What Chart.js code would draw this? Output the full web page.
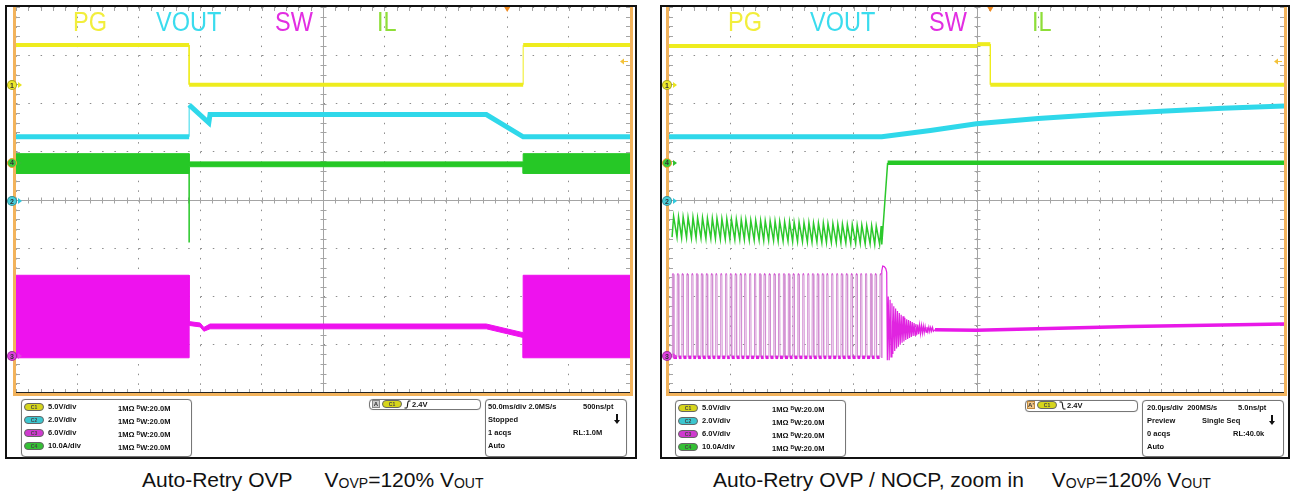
<!DOCTYPE html>
<html lang="en">
<head>
<meta charset="UTF-8">
<title>Auto-Retry OVP</title>
<style>
  body { margin: 0; background: #fff; font-family: "Liberation Sans", Arial, sans-serif; }
  #page { position: relative; width: 1298px; height: 496px; overflow: hidden; }
  .panel { position: absolute; top: 5px; height: 454px; border: 2px solid #111; box-sizing: border-box; }
  canvas { position: absolute; top: 0; }
  .lbl { position: absolute; top: 9px; font-size: 27px; line-height: 27px; transform: scaleX(0.87); transform-origin: left top; }
  .mk { position: absolute; width: 10px; height: 10px; border-radius: 50%; font-size: 7px; font-weight: bold;
        line-height: 9px; text-align: center; color: #333; box-sizing: border-box; border: 1px solid rgba(0,0,0,.3); }
  .mk::after { content: ''; position: absolute; left: 10px; top: 1px; border-left: 4px solid var(--c);
               border-top: 3px solid transparent; border-bottom: 3px solid transparent; }
  .mk.sel { border: 1.5px solid #f0a030; line-height: 8px; }
  .box { position: absolute; border: 1px solid #777; border-radius: 4px; box-sizing: border-box; background: #fff; box-shadow: 0 0 1px #bbb; }
  .row { position: absolute; font-size: 7.5px; line-height: 8px; font-weight: bold; color: #111; white-space: nowrap; }
  .bw { font-size: 5px; vertical-align: 2px; }
  .badge { position: absolute; width: 20px; height: 8px; border-radius: 4px; font-size: 5px; line-height: 7px;
           text-align: center; color: #444; border: 1px solid #666; box-sizing: border-box; font-weight: bold; }
  .c1 { background: #d6d51c; } .c2 { background: #3cc6cf; } .c3 { background: #cf3acf; } .c4 { background: #34c034; }
  .tA { position: absolute; width: 8px; height: 8px; background: #ccc; border: 1px solid #888; box-sizing: border-box;
        font-size: 6px; line-height: 6px; text-align: center; font-weight: bold; color: #333; }
  .arr { position: absolute; width: 2px; height: 6px; background: #111; }
  .arr::after { content: ''; position: absolute; left: -2px; top: 6px; border-top: 4px solid #111;
                border-left: 3px solid transparent; border-right: 3px solid transparent; }
  .cap { position: absolute; top: 468px; font-size: 21px; line-height: 24px; color: #111; white-space: nowrap; }
  .cap .s { font-size: 14px; vertical-align: -1px; }
</style>
</head>
<body>
<div id="page">
  <div class="panel" style="left:5px; width:632px;"></div>
  <div class="panel" style="left:660px; width:630px;"></div>

  <canvas id="leftScope" width="640" height="400" style="left:0;"></canvas>
  <canvas id="rightScope" width="648" height="400" style="left:650px;"></canvas>

  <!-- trace labels -->
  <div class="lbl" style="left:73px; color:#f2ee3c;">PG</div>
  <div class="lbl" style="left:156px; color:#3bdcee;">VOUT</div>
  <div class="lbl" style="left:275px; color:#e22ee2;">SW</div>
  <div class="lbl" style="left:377px; color:#8ede38;">IL</div>
  <div class="lbl" style="left:728px; color:#f2ee3c;">PG</div>
  <div class="lbl" style="left:810px; color:#3bdcee;">VOUT</div>
  <div class="lbl" style="left:929px; color:#e22ee2;">SW</div>
  <div class="lbl" style="left:1032px; color:#8ede38;">IL</div>

  <!-- channel ground markers -->
  <div class="mk" style="left:7px; top:80px; background:#eeea2a; --c:#e8e420;">1</div>
  <div class="mk sel" style="left:7px; top:158px; background:#3ccc3c; --c:#30c030;">4</div>
  <div class="mk" style="left:7px; top:196px; background:#48d0dc; --c:#30c8dc;">2</div>
  <div class="mk" style="left:7px; top:351px; background:#e040e0; --c:#e040e0;">3</div>
  <div class="mk" style="left:662px; top:80px; background:#eeea2a; --c:#e8e420;">1</div>
  <div class="mk sel" style="left:662px; top:158px; background:#3ccc3c; --c:#30c030;">4</div>
  <div class="mk" style="left:662px; top:196px; background:#48d0dc; --c:#30c8dc;">2</div>
  <div class="mk" style="left:662px; top:351px; background:#e040e0; --c:#e040e0;">3</div>

  <!-- left readout -->
  <div class="box" style="left:21px; top:399px; width:171px; height:58px;"></div>
  <div class="badge c1" style="left:24px; top:403px;">C1</div>
  <div class="badge c2" style="left:24px; top:416px;">C2</div>
  <div class="badge c3" style="left:24px; top:429px;">C3</div>
  <div class="badge c4" style="left:24px; top:442px;">C4</div>
  <div class="row" style="left:48px; top:403px;">5.0V/div</div>
  <div class="row" style="left:48px; top:416px;">2.0V/div</div>
  <div class="row" style="left:48px; top:429px;">6.0V/div</div>
  <div class="row" style="left:48px; top:442px;">10.0A/div</div>
  <div class="row" style="left:118px; top:403px;">1MΩ <span class="bw">B</span>W:20.0M</div>
  <div class="row" style="left:118px; top:416px;">1MΩ <span class="bw">B</span>W:20.0M</div>
  <div class="row" style="left:118px; top:429px;">1MΩ <span class="bw">B</span>W:20.0M</div>
  <div class="row" style="left:118px; top:442px;">1MΩ <span class="bw">B</span>W:20.0M</div>

  <div class="box" style="left:369px; top:399px; width:112px; height:11px;"></div>
  <div class="tA" style="left:372px; top:400px;">A</div>
  <div class="badge c1" style="left:382px; top:400px;">C1</div>
  <svg style="position:absolute; left:404px; top:400px;" width="7" height="9"><path d="M0.5 8 L2.5 8 Q3.3 8 3.6 4.5 Q3.9 1 4.8 1 L6.5 1" stroke="#111" stroke-width="1.1" fill="none"/></svg>
  <div class="row" style="left:412px; top:401px;">2.4V</div>

  <div class="box" style="left:485px; top:399px; width:142px; height:58px;"></div>
  <div class="row" style="left:488px; top:403px;">50.0ms/div 2.0MS/s</div>
  <div class="row" style="left:583px; top:403px;">500ns/pt</div>
  <div class="row" style="left:488px; top:416px;">Stopped</div>
  <div class="arr" style="left:616px; top:414px;"></div>
  <div class="row" style="left:488px; top:429px;">1 acqs</div>
  <div class="row" style="left:573px; top:429px;">RL:1.0M</div>
  <div class="row" style="left:488px; top:442px;">Auto</div>

  <!-- right readout -->
  <div class="box" style="left:675px; top:400px; width:171px; height:57px;"></div>
  <div class="badge c1" style="left:678px; top:404px;">C1</div>
  <div class="badge c2" style="left:678px; top:417px;">C2</div>
  <div class="badge c3" style="left:678px; top:430px;">C3</div>
  <div class="badge c4" style="left:678px; top:443px;">C4</div>
  <div class="row" style="left:702px; top:404px;">5.0V/div</div>
  <div class="row" style="left:702px; top:417px;">2.0V/div</div>
  <div class="row" style="left:702px; top:430px;">6.0V/div</div>
  <div class="row" style="left:702px; top:443px;">10.0A/div</div>
  <div class="row" style="left:772px; top:404px;">1MΩ <span class="bw">B</span>W:20.0M</div>
  <div class="row" style="left:772px; top:417px;">1MΩ <span class="bw">B</span>W:20.0M</div>
  <div class="row" style="left:772px; top:430px;">1MΩ <span class="bw">B</span>W:20.0M</div>
  <div class="row" style="left:772px; top:443px;">1MΩ <span class="bw">B</span>W:20.0M</div>

  <div class="box" style="left:1025px; top:400px; width:113px; height:12px;"></div>
  <div class="tA" style="left:1027px; top:401px; background:#f3c98a; border-color:#c08a40;">A'</div>
  <div class="badge c1" style="left:1037px; top:401px;">C1</div>
  <svg style="position:absolute; left:1059px; top:401px;" width="7" height="9"><path d="M0.5 1 L2.5 1 Q3.3 1 3.6 4.5 Q3.9 8 4.8 8 L6.5 8" stroke="#111" stroke-width="1.1" fill="none"/></svg>
  <div class="row" style="left:1067px; top:402px;">2.4V</div>

  <div class="box" style="left:1142px; top:400px; width:142px; height:57px;"></div>
  <div class="row" style="left:1147px; top:404px;">20.0µs/div&nbsp;&nbsp;200MS/s</div>
  <div class="row" style="left:1238px; top:404px;">5.0ns/pt</div>
  <div class="row" style="left:1147px; top:417px;">Preview</div>
  <div class="row" style="left:1202px; top:417px;">Single Seq</div>
  <div class="arr" style="left:1271px; top:415px;"></div>
  <div class="row" style="left:1147px; top:430px;">0 acqs</div>
  <div class="row" style="left:1233px; top:430px;">RL:40.0k</div>
  <div class="row" style="left:1147px; top:443px;">Auto</div>

  <!-- captions -->
  <div class="cap" style="left:142px;">Auto-Retry OVP<span style="display:inline-block; width:32px;"></span>V<span class="s">OVP</span>=120% V<span class="s">OUT</span></div>
  <div class="cap" style="left:713px;">Auto-Retry OVP / NOCP, zoom in<span style="display:inline-block; width:28px;"></span>V<span class="s">OVP</span>=120% V<span class="s">OUT</span></div>
</div>

<script src="https://cdn.jsdelivr.net/npm/chart.js"></script>
<script>
// ---- left capture: 50 ms/div, time in ms, amplitude in divisions ----
const pgLeftT   = [-250, -109, -109, 163, 163, 250];
const pgLeftV   = [3.21, 3.21, 2.39, 2.39, 3.21, 3.21];

const voutLeftT = [-250, -109, -109, -93, -92, 133, 163, 250];
const voutLeftV = [1.31, 1.31, 1.97, 1.60, 1.77, 1.77, 1.31, 1.31];

const ilLeftT   = [-250, -109, -109, 163, 163, 250];
const ilLeftTop = [0.96, 0.96, 0.79, 0.79, 0.96, 0.96];
const ilLeftBot = [0.55, 0.55, 0.69, 0.69, 0.55, 0.55];
const ilSpikeT  = [-109, -109];
const ilSpikeV  = [0.69, -0.88];

const swLeftT   = [-250, -109, -109, -100, -97, -92, 133, 163, 163, 250];
const swLeftTop = [-1.56, -1.56, -2.52, -2.55, -2.64, -2.57, -2.57, -2.75, -1.56, -1.56];
const swLeftBot = [-3.27, -3.27, -2.60, -2.63, -2.72, -2.67, -2.67, -2.85, -3.27, -3.27];

// ---- right capture: 20 us/div, time in us ----
const pgRightT   = [-100, 0.3, 0.3, 4.5, 4.5, 100];
const pgRightV   = [3.19, 3.19, 3.23, 3.23, 2.39, 2.39];

const voutRightT = [-100, -30.8, -15, 0, 20, 40, 60, 80, 100];
const voutRightV = [1.31, 1.31, 1.44, 1.58, 1.69, 1.77, 1.84, 1.90, 1.95];

// switching pulses before the fault (start times, us)
const swPulseT = [-99.0, -97.4, -95.9, -94.3, -92.7, -91.2, -89.6, -88.0, -86.4, -84.9,
                  -83.3, -81.7, -80.2, -78.6, -77.0, -75.5, -73.9, -72.3, -70.7, -69.2,
                  -67.6, -66.0, -64.5, -62.9, -61.3, -59.8, -58.2, -56.6, -55.0, -53.5,
                  -51.9, -50.3, -48.8, -47.2, -45.6, -44.1, -42.5, -40.9, -39.3, -37.8,
                  -36.2, -34.6, -33.1, -31.5];
const swOnTime = 0.5;
const swLowR = -3.26;
const swHighR = -1.54;

const ilPeak   = [-0.34, -0.35, -0.35, -0.36, -0.36, -0.37, -0.37, -0.38, -0.38, -0.38,
                  -0.39, -0.39, -0.40, -0.40, -0.41, -0.41, -0.42, -0.42, -0.43, -0.43,
                  -0.43, -0.44, -0.44, -0.45, -0.45, -0.46, -0.46, -0.47, -0.47, -0.48,
                  -0.48, -0.48, -0.49, -0.49, -0.50, -0.50, -0.51, -0.51, -0.52, -0.52,
                  -0.53, -0.53, -0.54, -0.54];
const ilValley = [-0.77, -0.77, -0.78, -0.78, -0.79, -0.79, -0.79, -0.80, -0.80, -0.80,
                  -0.81, -0.81, -0.81, -0.82, -0.82, -0.82, -0.83, -0.83, -0.83, -0.84,
                  -0.84, -0.84, -0.85, -0.85, -0.85, -0.86, -0.86, -0.86, -0.87, -0.87,
                  -0.87, -0.88, -0.88, -0.88, -0.89, -0.89, -0.89, -0.90, -0.90, -0.90,
                  -0.91, -0.91, -0.92, -0.92];
const ilRiseT = [-30.8, -28.9];
const ilRiseV = [-0.92, 0.77];
const ilFlatT = [-28.9, 100];
const ilFlatV = [0.77, 0.77];

// last pulse and the ringing after the high side turns off
const swTailT = [-30.9, -30.8, -30.5, -30.0, -29.5, -29.2, -29.0,
                 -28.7, -28.4, -28.1, -27.8, -27.5, -27.2, -26.9, -26.6, -26.3, -26.0,
                 -25.7, -25.4, -25.1, -24.8, -24.5, -24.2, -23.9, -23.6, -23.3, -23.0,
                 -22.7, -22.4, -22.1, -21.8, -21.5, -21.2, -20.9, -20.6, -20.3, -20.0,
                 -19.7, -19.4, -19.1, -18.8, -18.5, -18.2, -17.9, -17.6, -17.3, -17.0,
                 -16.7, -16.4, -16.1, -15.8, -15.5, -15.2, -14.9, -14.6, -14.3, -14.0,
                 -13.5];
const swTailV = [-3.26, -1.47, -1.37, -1.38, -1.42, -1.50, -3.32,
                 -2.00, -3.32, -2.07, -3.25, -2.14, -3.19, -2.20, -3.13, -2.25, -3.08,
                 -2.30, -3.04, -2.34, -3.00, -2.38, -2.96, -2.41, -2.93, -2.44, -2.90,
                 -2.47, -2.88, -2.49, -2.86, -2.51, -2.84, -2.53, -2.82, -2.55, -2.80,
                 -2.57, -2.79, -2.58, -2.78, -2.59, -2.77, -2.60, -2.76, -2.61, -2.75,
                 -2.62, -2.74, -2.63, -2.73, -2.63, -2.73, -2.64, -2.72, -2.64, -2.72,
                 -2.69];
const swFlatT = [-13.5, 0, 50, 100];
const swFlatV = [-2.69, -2.70, -2.62, -2.57];

// trigger position / level (C1, 2.4 V at 5 V/div above the C1 ground)
const trigLeftT = 150;
const trigRightT = 4.5;
const trigLevel = 2.87;

const pts = (t, v) => t.map((x, i) => ({ x: x, y: v[i] }));

function trace(t, v, color, width, extra) {
    return Object.assign({
        data: pts(t, v),
        borderColor: color,
        borderWidth: width,
        pointRadius: 0,
        fill: false,
        tension: 0,
        segment: {
            borderWidth: c => c.p0.parsed.x === c.p1.parsed.x ? 1 : width
        }
    }, extra || {});
}

const scopeDeco = {
    id: 'scopeDeco',
    beforeDatasetsDraw(chart) {
        const { ctx, chartArea: a, scales: { x, y } } = chart;
        const cx = Math.round(x.getPixelForValue((x.min + x.max) / 2)) + 0.5;
        const cy = Math.round(y.getPixelForValue(0)) + 0.5;
        ctx.save();
        ctx.strokeStyle = '#a4a4a4';
        ctx.lineWidth = 1;
        ctx.beginPath();
        ctx.moveTo(a.left, cy); ctx.lineTo(a.right, cy);
        ctx.moveTo(cx, a.top); ctx.lineTo(cx, a.bottom);
        const xs = (x.max - x.min) / 50;
        for (let i = 0; i <= 50; i++) {
            const px = Math.round(x.getPixelForValue(x.min + i * xs)) + 0.5;
            ctx.moveTo(px, cy - 3); ctx.lineTo(px, cy + 3);
            ctx.moveTo(px, a.top); ctx.lineTo(px, a.top + 4);
            ctx.moveTo(px, a.bottom); ctx.lineTo(px, a.bottom - 4);
        }
        for (let i = 0; i <= 40; i++) {
            const py = Math.round(y.getPixelForValue(-4 + i * 0.2)) + 0.5;
            ctx.moveTo(cx - 3, py); ctx.lineTo(cx + 3, py);
            ctx.moveTo(a.left, py); ctx.lineTo(a.left + 4, py);
            ctx.moveTo(a.right, py); ctx.lineTo(a.right - 4, py);
        }
        ctx.stroke();
        ctx.restore();
    },
    afterDraw(chart, args, opts) {
        const { ctx, chartArea: a, scales: { x, y } } = chart;
        ctx.save();
        // bezel
        ctx.strokeStyle = '#f2b35c';
        ctx.lineWidth = 3;
        ctx.beginPath();
        ctx.moveTo(a.left - 1.5, a.top);
        ctx.lineTo(a.left - 1.5, a.bottom + 1.5);
        ctx.lineTo(a.right + 1.5, a.bottom + 1.5);
        ctx.lineTo(a.right + 1.5, a.top);
        ctx.stroke();
        ctx.strokeStyle = '#222';
        ctx.lineWidth = 1.2;
        ctx.beginPath();
        ctx.moveTo(a.left, a.bottom - 0.5); ctx.lineTo(a.right, a.bottom - 0.5);
        ctx.stroke();
        // trigger position
        const tx = x.getPixelForValue(opts.trigT);
        ctx.fillStyle = '#f08a20';
        ctx.beginPath();
        ctx.moveTo(tx - 3, a.top); ctx.lineTo(tx + 3, a.top); ctx.lineTo(tx, a.top + 5);
        ctx.fill();
        // trigger level
        const ty = y.getPixelForValue(opts.trigLevel);
        ctx.fillStyle = '#f3c23a';
        ctx.strokeStyle = '#f3c23a';
        ctx.beginPath();
        ctx.moveTo(a.right - 10, ty); ctx.lineTo(a.right - 6, ty - 3); ctx.lineTo(a.right - 6, ty + 3);
        ctx.fill();
        ctx.lineWidth = 1;
        ctx.beginPath();
        ctx.moveTo(a.right - 6, ty); ctx.lineTo(a.right - 2, ty);
        ctx.stroke();
        ctx.restore();
    }
};

function scopeOptions(xmin, xmax, padding, trigT) {
    const div = (xmax - xmin) / 10;
    return {
        responsive: false,
        animation: false,
        layout: { padding: padding },
        plugins: {
            legend: { display: false },
            tooltip: { enabled: false },
            scopeDeco: { trigT: trigT, trigLevel: trigLevel }
        },
        elements: { point: { radius: 0 }, line: { borderJoinStyle: 'miter' } },
        scales: {
            x: {
                type: 'linear', min: xmin, max: xmax,
                ticks: { display: false, stepSize: div },
                grid: { color: '#8c8c8c', lineWidth: 1, drawTicks: false, borderDash: [1.5, 8.15] },
                border: { display: false, dash: [1.5, 8.15] }
            },
            y: {
                type: 'linear', min: -4, max: 4,
                ticks: { display: false, stepSize: 1 },
                grid: { color: '#8c8c8c', lineWidth: 1, drawTicks: false, borderDash: [1.5, 10.8] },
                border: { display: false, dash: [1.5, 10.8] }
            }
        }
    };
}

// ---- left chart ----
new Chart(document.getElementById('leftScope'), {
    type: 'line',
    data: {
        datasets: [
            trace(pgLeftT, pgLeftV, '#eeec1e', 4),
            trace(voutLeftT, voutLeftV, '#2fd8ea', 5),
            trace(ilLeftT, ilLeftTop, '#26c826', 1, { fill: '+1', backgroundColor: '#26c826' }),
            trace(ilLeftT, ilLeftBot, '#26c826', 1),
            trace(ilSpikeT, ilSpikeV, '#26c826', 1.5, { segment: {} }),
            trace(swLeftT, swLeftTop, '#ee12ee', 1, { fill: '+1', backgroundColor: '#ee12ee' }),
            trace(swLeftT, swLeftBot, '#ee12ee', 1)
        ]
    },
    options: scopeOptions(-250, 250, { left: 16, right: 10, top: 7, bottom: 7 }, trigLeftT),
    plugins: [scopeDeco]
});

// ---- right chart ----
const swPulses = [];
swPulseT.forEach(t => {
    swPulses.push({ x: t, y: swLowR }, { x: t + 0.1, y: swHighR },
                  { x: t + swOnTime, y: swHighR }, { x: t + swOnTime + 0.1, y: swLowR });
});
const ilZigzag = [];
swPulseT.forEach((t, i) => {
    ilZigzag.push({ x: t, y: ilValley[i] }, { x: t + swOnTime, y: ilPeak[i] });
});
ilZigzag.push(...pts(ilRiseT, ilRiseV));

const flatAt = (c, v) => c.p0.parsed.y === v && c.p1.parsed.y === v;

new Chart(document.getElementById('rightScope'), {
    type: 'line',
    data: {
        datasets: [
            trace(pgRightT, pgRightV, '#eeec1e', 4),
            trace(voutRightT, voutRightV, '#2fd8ea', 5),
            { data: ilZigzag, borderColor: '#2cc82c', borderWidth: 1.5, pointRadius: 0, fill: false },
            trace(ilFlatT, ilFlatV, '#26c826', 4.5),
            {
                data: swPulses, pointRadius: 0, fill: false, borderWidth: 1,
                borderColor: '#d58fd5',
                segment: {
                    borderColor: c => flatAt(c, swLowR) ? '#e01ee0' : (flatAt(c, swHighR) ? '#d640d6' : '#d28ed2'),
                    borderWidth: c => flatAt(c, swLowR) ? 3.5 : (flatAt(c, swHighR) ? 2 : 1)
                }
            },
            { data: pts(swTailT, swTailV), borderColor: '#e024e0', borderWidth: 1.2, pointRadius: 0, fill: false },
            trace(swFlatT, swFlatV, '#e818e8', 3.5)
        ]
    },
    options: scopeOptions(-100, 100, { left: 19, right: 14, top: 7, bottom: 7 }, trigRightT),
    plugins: [scopeDeco]
});
</script>
</body>
</html>
